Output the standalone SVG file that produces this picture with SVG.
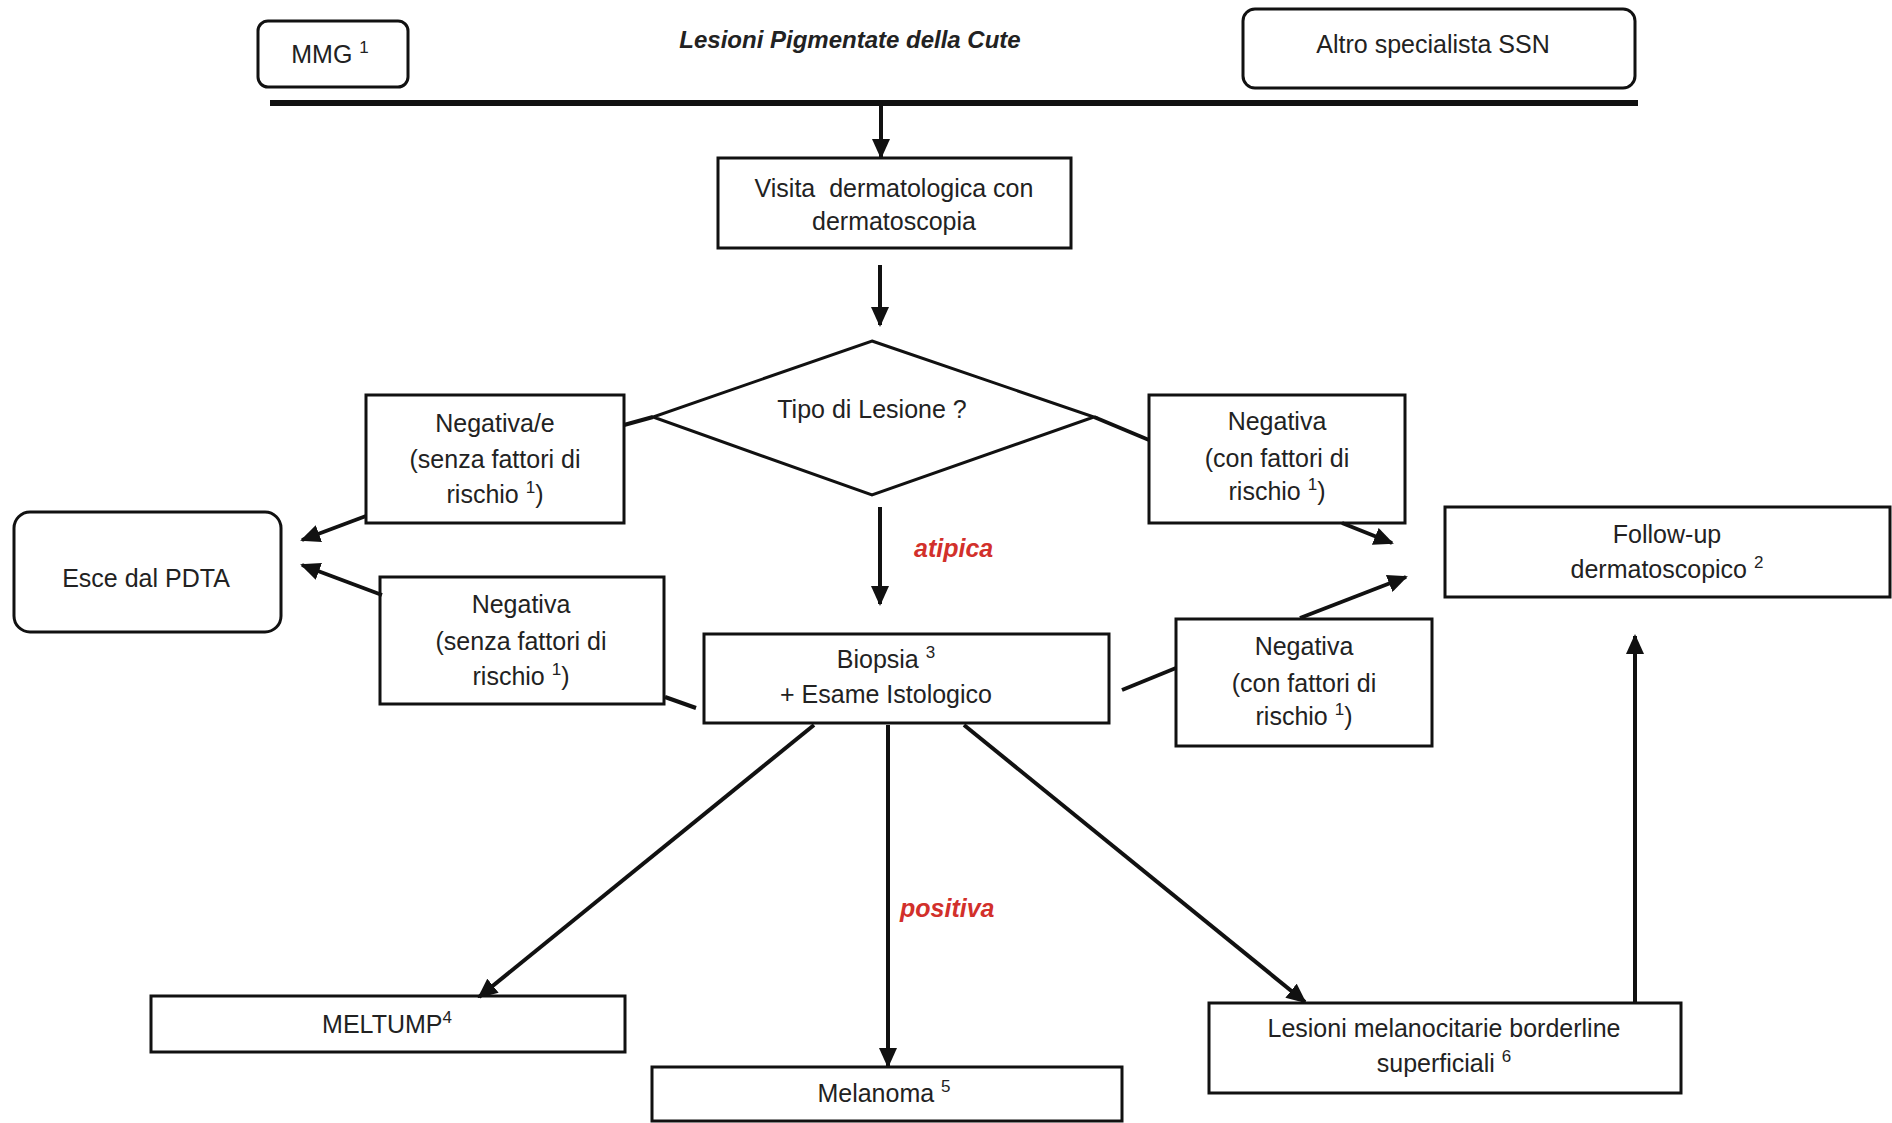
<svg xmlns="http://www.w3.org/2000/svg" width="1892" height="1123" viewBox="0 0 1892 1123">
  <style>
    .box { fill: #fff; stroke: #111; stroke-width: 3; }
    .t { font-family: "Liberation Sans", Arial, sans-serif; font-size: 25px; fill: #222; text-anchor: middle; white-space: pre; }
    .sup { font-size: 17px; }
    .title { font-family: "Liberation Sans", Arial, sans-serif; font-size: 24px; font-weight: bold; font-style: italic; fill: #222; text-anchor: middle; }
    .lbl { font-family: "Liberation Sans", Arial, sans-serif; font-size: 25px; font-weight: bold; font-style: italic; fill: #d2302b; }
    .c { stroke: #111; stroke-width: 4; fill: none; }
    .ca { stroke: #111; stroke-width: 4; fill: none; marker-end: url(#ah); }
  </style>
  <defs>
    <marker id="ah" markerUnits="userSpaceOnUse" markerWidth="20" markerHeight="18" refX="18" refY="9" orient="auto">
      <path d="M0,0 L20,9 L0,18 Z" fill="#111"/>
    </marker>
  </defs>
  <rect width="1892" height="1123" fill="#fff"/>

  <!-- header -->
  <text class="title" x="850" y="48">Lesioni Pigmentate della Cute</text>

  <g id="mmg">
    <rect class="box" x="258" y="21" width="150" height="66" rx="10"/>
    <text class="t" x="330" y="63">MMG <tspan class="sup" dy="-10">1</tspan></text>
  </g>
  <g id="altro">
    <rect class="box" x="1243" y="9" width="392" height="79" rx="12"/>
    <text class="t" x="1433" y="53">Altro specialista SSN</text>
  </g>

  <g id="visita">
    <rect class="box" x="718" y="158" width="353" height="90"/>
    <text class="t" x="894" y="197">Visita  dermatologica con</text>
    <text class="t" x="894" y="230">dermatoscopia</text>
  </g>

  <g id="tipo">
    <polygon class="box" points="872,341 1094,417 872,495 653,417"/>
    <text class="t" x="872" y="418">Tipo di Lesione ?</text>
  </g>

  <g id="neg-senza-1">
    <rect class="box" x="366" y="395" width="258" height="128"/>
    <text class="t" x="495" y="432">Negativa/e</text>
    <text class="t" x="495" y="468">(senza fattori di</text>
    <text class="t" x="495" y="503">rischio <tspan class="sup" dy="-10">1</tspan><tspan dy="10">)</tspan></text>
  </g>

  <g id="neg-con-1">
    <rect class="box" x="1149" y="395" width="256" height="128"/>
    <text class="t" x="1277" y="430">Negativa</text>
    <text class="t" x="1277" y="467">(con fattori di</text>
    <text class="t" x="1277" y="500">rischio <tspan class="sup" dy="-10">1</tspan><tspan dy="10">)</tspan></text>
  </g>

  <g id="esce">
    <rect class="box" x="14" y="512" width="267" height="120" rx="16"/>
    <text class="t" x="146" y="587">Esce dal PDTA</text>
  </g>

  <g id="follow-up">
    <rect class="box" x="1445" y="507" width="445" height="90"/>
    <text class="t" x="1667" y="543">Follow-up</text>
    <text class="t" x="1667" y="578">dermatoscopico <tspan class="sup" dy="-10">2</tspan></text>
  </g>

  <g id="neg-senza-2">
    <rect class="box" x="380" y="577" width="284" height="127"/>
    <text class="t" x="521" y="613">Negativa</text>
    <text class="t" x="521" y="650">(senza fattori di</text>
    <text class="t" x="521" y="685">rischio <tspan class="sup" dy="-10">1</tspan><tspan dy="10">)</tspan></text>
  </g>

  <g id="biopsia">
    <rect class="box" x="704" y="634" width="405" height="89"/>
    <text class="t" x="886" y="668">Biopsia <tspan class="sup" dy="-10">3</tspan></text>
    <text class="t" x="886" y="703">+ Esame Istologico</text>
  </g>

  <g id="neg-con-2">
    <rect class="box" x="1176" y="619" width="256" height="127"/>
    <text class="t" x="1304" y="655">Negativa</text>
    <text class="t" x="1304" y="692">(con fattori di</text>
    <text class="t" x="1304" y="725">rischio <tspan class="sup" dy="-10">1</tspan><tspan dy="10">)</tspan></text>
  </g>

  <g id="meltump">
    <rect class="box" x="151" y="996" width="474" height="56"/>
    <text class="t" x="387" y="1033">MELTUMP<tspan class="sup" dy="-10">4</tspan></text>
  </g>

  <g id="melanoma">
    <rect class="box" x="652" y="1067" width="470" height="54"/>
    <text class="t" x="884" y="1102">Melanoma <tspan class="sup" dy="-10">5</tspan></text>
  </g>

  <g id="borderline">
    <rect class="box" x="1209" y="1003" width="472" height="90"/>
    <text class="t" x="1444" y="1037">Lesioni melanocitarie borderline</text>
    <text class="t" x="1444" y="1072">superficiali <tspan class="sup" dy="-10">6</tspan></text>
  </g>

  <!-- connectors -->
  <g id="connectors">
    <line x1="270" y1="103" x2="1638" y2="103" stroke="#111" stroke-width="6"/>
    <line class="ca" x1="881" y1="103" x2="881" y2="157"/>
    <line class="ca" x1="880" y1="265" x2="880" y2="325"/>
    <line class="c" x1="624" y1="425" x2="653" y2="417"/>
    <line class="c" x1="1094" y1="417" x2="1149" y2="440"/>
    <line class="ca" x1="366" y1="516" x2="302" y2="540"/>
    <line class="ca" x1="382" y1="595" x2="302" y2="565"/>
    <line class="ca" x1="1342" y1="523" x2="1392" y2="543"/>
    <line class="ca" x1="880" y1="507" x2="880" y2="604"/>
    <text class="lbl" x="914" y="557">atipica</text>
    <line class="c" x1="665" y1="697" x2="696" y2="708"/>
    <line class="c" x1="1122" y1="690" x2="1176" y2="668"/>
    <line class="ca" x1="1300" y1="618" x2="1406" y2="577"/>
    <line class="ca" x1="814" y1="725" x2="479" y2="997"/>
    <line class="ca" x1="888" y1="725" x2="888" y2="1066"/>
    <text class="lbl" x="900" y="917">positiva</text>
    <line class="ca" x1="964" y1="725" x2="1305" y2="1002"/>
    <line class="ca" x1="1635" y1="1003" x2="1635" y2="636"/>
  </g>
</svg>
